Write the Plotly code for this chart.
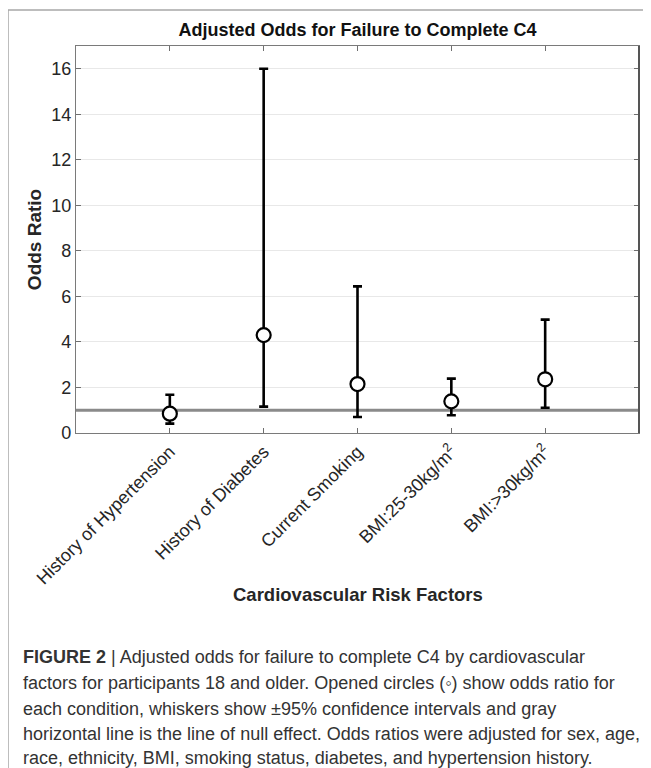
import plotly.graph_objects as go

# ---- data ----
categories = ["History of Hypertension", "History of Diabetes", "Current Smoking",
              "BMI:25-30kg/m<sup>2</sup>", "BMI:>30kg/m<sup>2</sup>"]
odds_ratio = [0.85, 4.30, 2.15, 1.39, 2.36]
ci_lower = [0.41, 1.16, 0.70, 0.78, 1.11]
ci_upper = [1.68, 16.0, 6.44, 2.39, 4.98]
null_effect = 1
y_ticks = [0, 2, 4, 6, 8, 10, 12, 14, 16]

caption_lines = [
    "<b>FIGURE 2</b> | Adjusted odds for failure to complete C4 by cardiovascular",
    "factors for participants 18 and older. Opened circles (◦) show odds ratio for",
    "each condition, whiskers show ±95% confidence intervals and gray",
    "horizontal line is the line of null effect. Odds ratios were adjusted for sex, age,",
    "race, ethnicity, BMI, smoking status, diabetes, and hypertension history.",
]

# ---- layout geometry (page pixels; the page body adds an 8px margin) ----
OFF = 8
W, H = 651 - OFF, 768 - OFF
L, R, T, B = 76 - OFF, 639 - OFF, 46 - OFF, 432.7 - OFF
pw, ph = R - L, B - T


def px(x):
    """page x pixel -> paper coordinate"""
    return (x - OFF - L) / pw


def py(y):
    """page y pixel -> paper coordinate"""
    return (B - (y - OFF)) / ph


err_plus = [u - o for u, o in zip(ci_upper, odds_ratio)]
err_minus = [o - l for o, l in zip(odds_ratio, ci_lower)]

FONT = "Liberation Sans, Arial, sans-serif"

fig = go.Figure()
fig.add_trace(go.Scatter(
    x=categories, y=odds_ratio, mode="markers",
    marker=dict(symbol="circle", size=14, color="white",
                line=dict(color="black", width=2.2)),
    error_y=dict(type="data", symmetric=False, array=err_plus, arrayminus=err_minus,
                 color="black", thickness=2.6, width=4.5),
    showlegend=False, cliponaxis=False,
))

shapes = [
    # null effect line
    dict(type="line", xref="paper", yref="y", x0=0, x1=1, y0=null_effect, y1=null_effect,
         line=dict(color="#8a8a8a", width=3), layer="below"),
    # outer figure frame
    dict(type="rect", xref="paper", yref="paper", x0=px(8), x1=px(700), y0=py(10), y1=py(800),
         line=dict(color="#a8a8a8", width=1.5), fillcolor="rgba(0,0,0,0)"),
    # darker right axis edge
    dict(type="line", xref="paper", yref="paper", x0=1, x1=1, y0=0, y1=1,
         line=dict(color="#555555", width=2)),
]

annotations = [
    dict(text="<b>Odds Ratio</b>", xref="paper", yref="paper", x=px(34), y=py(240),
         textangle=-90, showarrow=False, font=dict(family=FONT, size=19, color="#262626"),
         xanchor="center", yanchor="middle"),
    dict(text="<b>Cardiovascular Risk Factors</b>", xref="paper", yref="paper",
         x=0.5, y=py(594), showarrow=False,
         font=dict(family=FONT, size=18.5, color="#262626"),
         xanchor="center", yanchor="middle"),
]

cap_y = [657, 683, 708, 733, 757]
for line, yy in zip(caption_lines, cap_y):
    annotations.append(dict(text=line, xref="paper", yref="paper", x=px(21), y=py(yy),
                            showarrow=False, xanchor="left", yanchor="middle",
                            font=dict(family=FONT, size=18, color="#333333")))

fig.update_layout(
    width=W, height=H,
    margin=dict(l=L, r=W - R, t=T, b=H - B),
    paper_bgcolor="white", plot_bgcolor="white",
    title=dict(text="<b>Adjusted Odds for Failure to Complete C4</b>",
               x=(L + R) / 2 / W, xanchor="center", y=1 - (30 - OFF) / H, yanchor="middle",
               yref="container", xref="container",
               font=dict(family=FONT, size=18, color="#111111")),
    font=dict(family=FONT, size=18, color="#262626"),
    shapes=shapes, annotations=annotations,
)
fig.update_xaxes(
    type="category", range=[-1, len(categories)], tickangle=-45,
    ticks="inside", ticklen=5, tickcolor="#6f6f6f", tickwidth=1,
    showline=True, linecolor="#7a7a7a", linewidth=1.3, mirror="ticks",
    showgrid=False, zeroline=False,
    tickfont=dict(family=FONT, size=18, color="#262626"),
)
fig.update_yaxes(
    range=[0, 17], tickvals=y_ticks,
    ticks="inside", ticklen=5, tickcolor="#6f6f6f", tickwidth=1,
    showline=True, linecolor="#7a7a7a", linewidth=1.3, mirror="ticks",
    showgrid=True, gridcolor="#e8e8e8", gridwidth=1, zeroline=False,
    tickfont=dict(family=FONT, size=18, color="#262626"),
)

fig.write_html("out.html")
